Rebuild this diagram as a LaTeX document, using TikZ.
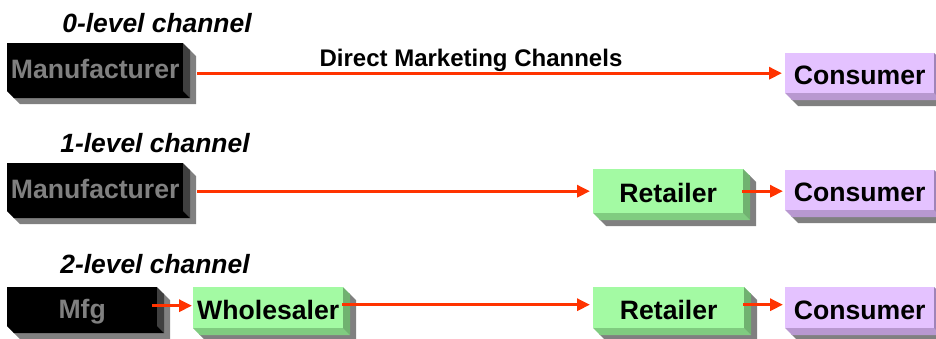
\documentclass[tikz,border=0pt]{standalone}
\usepackage{fontspec}
\setmainfont{Liberation Sans}
\usetikzlibrary{arrows.meta}
\definecolor{arrc}{RGB}{255,51,0}
\definecolor{shadowc}{RGB}{128,128,128}
\definecolor{grnfront}{RGB}{163,250,163}
\definecolor{grnbot}{RGB}{128,204,128}
\definecolor{grnside}{RGB}{112,178,112}
\definecolor{purfront}{RGB}{228,194,255}
\definecolor{purbot}{RGB}{184,152,208}
\definecolor{purside}{RGB}{160,132,184}
\definecolor{blkside}{RGB}{64,64,64}
\definecolor{blktext}{RGB}{128,128,128}
\tikzset{
  boxtext/.style={font=\bfseries\fontsize{26.6}{28}\selectfont, inner sep=0pt, anchor=north west, text height=23pt, text depth=0pt, align=center},
  blkfront/.style={boxtext, fill=black, text=blktext},
  grnfront/.style={boxtext, fill=grnfront, text=black},
  purfront/.style={boxtext, fill=purfront, text=black},
  blkbotst/.style={fill=black},
  grnbotst/.style={fill=grnbot},
  purbotst/.style={fill=purbot},
  blksidest/.style={fill=blkside},
  grnsidest/.style={fill=grnside},
  pursidest/.style={fill=purside},
  shadowst/.style={fill=shadowc},
  arr/.style={draw=arrc, line width=3pt, -{Triangle[length=13pt,width=12pt]}},
  ttl/.style={font=\bfseries\itshape\fontsize{26.4}{28}\selectfont, inner sep=0pt, anchor=base},
  lbl/.style={font=\bfseries\fontsize{24}{26}\selectfont, inner sep=0pt, anchor=base}
}
% #1 name, #2 x1, #3 y1, #4 x2, #5 y2, #6 kind, #7 text
\newcommand\bevbox[7]{%
  \fill[shadowst] ({#2+6},{#3+6}) -- ({#4+6},{#3+6}) -- ({#4+13},{#3+13}) -- ({#4+13},{#5+13}) -- ({#2+13},{#5+13}) -- ({#2+6},{#5+6}) -- cycle;
  \fill[#6sidest] (#4,#3) -- ({#4+7},{#3+7}) -- ({#4+7},{#5+7}) -- (#4,#5) -- cycle;
  \fill[#6botst] (#2,#5) -- (#4,#5) -- ({#4+7},{#5+7}) -- ({#2+7},{#5+7}) -- cycle;
  \node[#6front, minimum width={(#4-#2)*1pt}, minimum height={(#5-#3)*1pt}] (#1) at (#2,#3) {#7};
}
\begin{document}
\begin{tikzpicture}[x=1pt,y=-1pt]
\useasboundingbox (0,0) rectangle (936,338);
% titles
\node[ttl] (t0) at (157,32) {0-level channel};
\node[ttl] (t1) at (155,152) {1-level channel};
\node[ttl] (t2) at (155,273) {2-level channel};
% row 1
\bevbox{m1}{7}{43}{183}{91}{blk}{Manufacturer}
\bevbox{c1}{785}{53}{934}{93}{pur}{Consumer}
\node[lbl] (dm) at (471,66) {Direct Marketing Channels};
% row 2
\bevbox{m2}{7}{163}{183}{211}{blk}{Manufacturer}
\bevbox{r2}{593}{169}{743}{213}{grn}{Retailer}
\bevbox{c2}{785}{170}{934}{210}{pur}{Consumer}
% row 3
\bevbox{m3}{7}{287}{157}{326}{blk}{Mfg}
\bevbox{w3}{193}{287}{343}{328}{grn}{Wholesaler}
\bevbox{r3}{593}{287}{744}{328}{grn}{Retailer}
\bevbox{c3}{785}{287}{934}{328}{pur}{Consumer}
% arrows
\draw[arr] ([xshift=14pt]m1.east |- c1.west) -- ([xshift=-3pt]c1.west);
\draw[arr] ([xshift=14pt]m2.east |- r2.west) -- ([xshift=-3pt]r2.west);
\draw[arr] ([xshift=-1pt]r2.east) -- ([xshift=-2pt]r2.east -| c2.west);
\draw[arr] ([xshift=-5pt,yshift=2pt]m3.east |- w3.west) -- ([xshift=-1pt,yshift=2pt]w3.west);
\draw[arr] ([xshift=-1pt,yshift=3pt]w3.east) -- ([xshift=-3pt,yshift=3pt]r3.west);
\draw[arr] ([xshift=-1pt,yshift=3pt]r3.east) -- ([xshift=-2pt,yshift=3pt]c3.west);
\end{tikzpicture}
\end{document}
